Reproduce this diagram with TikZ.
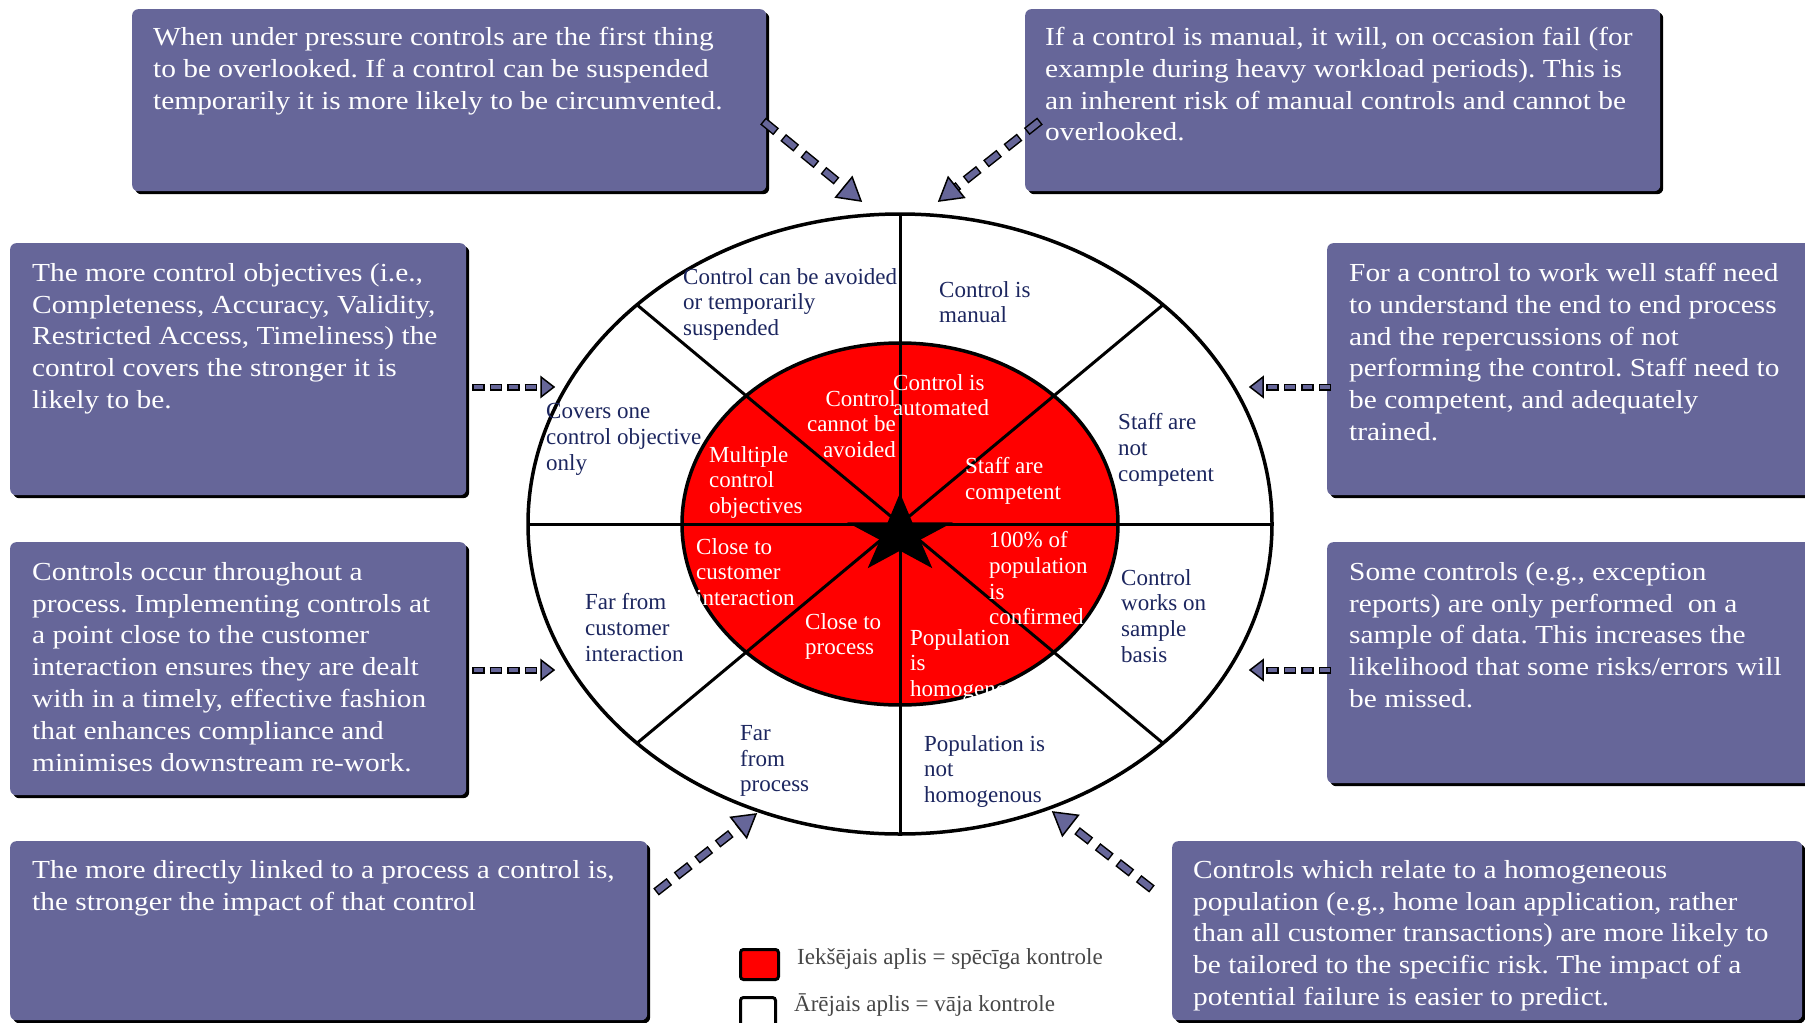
\documentclass[tikz,border=0pt]{standalone}
\usepackage{fontspec}
\setmainfont{Liberation Serif}
\newfontfamily\boxfont[FakeStretch=1.13]{Liberation Serif}
\usetikzlibrary{calc,shadows}
\definecolor{boxcol}{RGB}{102,102,153}
\definecolor{navy}{RGB}{28,38,95}
\definecolor{legendgray}{RGB}{70,70,70}
\definecolor{strongred}{RGB}{255,0,0}
\tikzset{
  panel/.style={draw=none, fill=boxcol, rounded corners=6pt, anchor=north west, inner sep=0pt,
    general shadow={fill=black, shadow xshift=3pt, shadow yshift=-3pt}},
  boxtext/.style={font=\boxfont\fontsize{26}{31.8}\selectfont, text=white, align=left, inner sep=0pt, anchor=north west},
  outerlbl/.style={font=\fontsize{23}{25.8}\selectfont, text=navy, align=left, inner sep=0pt, anchor=north west},
  innerlbl/.style={font=\fontsize{23}{25.8}\selectfont, text=white, align=left, inner sep=0pt, anchor=north west},
  legendtxt/.style={font=\fontsize{23}{26}\selectfont, text=legendgray, inner sep=0pt, anchor=west},
  spoke/.style={line width=3pt, draw=black},
  rim/.style={line width=3.5pt, draw=black},
}
% #1 start, #2 tip, #3 head length, #4 head half width, #5 outer width, #6 inner width, #7 outer dash, #8 inner dash
\newcommand{\dasharr}[8]{%
  \path ($(#2)!#3!(#1)$) coordinate (hb);
  \draw[line width=#5, draw=black, dash pattern=#7] (#1) -- (hb);
  \draw[line width=#6, draw=boxcol, dash pattern=#8, shorten <=1.5pt] (#1) -- (hb);
  \filldraw[fill=boxcol, draw=black, line width=1.5pt, line join=miter]
    (#2) -- ($(hb)!#4!90:(#2)$) -- ($(hb)!#4!-90:(#2)$) -- cycle;
}
\frenchspacing
\begin{document}
\frenchspacing
\begin{tikzpicture}[x=1pt, y=-1pt]
\useasboundingbox (0,0) rectangle (1805,1023);

% ---------- boxes ----------
\node[panel, minimum width=634pt, minimum height=182pt] (b1) at (132,9) {};
\node[panel, minimum width=635pt, minimum height=182pt] (b2) at (1025,9) {};
\node[panel, minimum width=456pt, minimum height=252pt] (b3) at (10,243) {};
\node[panel, minimum width=456pt, minimum height=253pt] (b4) at (10,542) {};
\node[panel, minimum width=637pt, minimum height=179pt] (b5) at (10,841) {};
\node[panel, minimum width=500pt, minimum height=252pt] (b6) at (1327,243) {};
\node[panel, minimum width=500pt, minimum height=241pt] (b7) at (1327,542) {};
\node[panel, minimum width=630pt, minimum height=179pt] (b8) at (1172,841) {};

\node[boxtext] (t1) at (153,27) {When under pressure controls are the first thing\\to be overlooked. If a control can be suspended\\temporarily it is more likely to be circumvented.};
\node[boxtext] (t2) at (1045,27) {If a control is manual, it will, on occasion fail (for\\example during heavy workload periods). This is\\an inherent risk of manual controls and cannot be\\overlooked.};
\node[boxtext] (t3) at (32,263) {The more control objectives (i.e.,\\Completeness, Accuracy, Validity,\\Restricted Access, Timeliness) the\\control covers the stronger it is\\likely to be.};
\node[boxtext] (t4) at (32,562) {Controls occur throughout a\\process. Implementing controls at\\a point close to the customer\\interaction ensures they are dealt\\with in a timely, effective fashion\\that enhances compliance and\\minimises downstream re-work.};
\node[boxtext] (t5) at (32,860) {The more directly linked to a process a control is,\\the stronger the impact of that control};
\node[boxtext] (t6) at (1349,263) {For a control to work well staff need\\to understand the end to end process\\and the repercussions of not\\performing the control. Staff need to\\be competent, and adequately\\trained.};
\node[boxtext] (t7) at (1349,562) {Some controls (e.g., exception\\reports) are only performed\ \ on a\\sample of data. This increases the\\likelihood that some risks/errors will\\be missed.};
\node[boxtext] (t8) at (1193,860) {Controls which relate to a homogeneous\\population (e.g., home loan application, rather\\than all customer transactions) are more likely to\\be tailored to the specific risk. The impact of a\\potential failure is easier to predict.};

% ---------- wheel ----------
\coordinate (c) at (900,524);
\fill[white] (c) ellipse [x radius=372pt, y radius=310pt];
\fill[strongred] (c) ellipse [x radius=218pt, y radius=181pt];
\foreach \a in {0,45,...,315}
  \draw[spoke] (c) -- ++({372*cos(\a)},{310*sin(\a)});
\draw[rim] (c) ellipse [x radius=218pt, y radius=181pt];
\draw[rim] (c) ellipse [x radius=372pt, y radius=310pt];

% outer labels
\node[outerlbl] (o1) at (683,268) {Control can be avoided\\or temporarily\\suspended};
\node[outerlbl] (o2) at (939,281) {Control is\\manual};
\node[outerlbl] (o3) at (1118,413) {Staff are\\not\\competent};
\node[outerlbl] (o4) at (1121,569) {Control\\works on\\sample\\basis};
\node[outerlbl] (o5) at (924,735) {Population is\\not\\homogenous};
\node[outerlbl] (o6) at (740,725) {Far\\from\\process};
\node[outerlbl] (o7) at (585,593) {Far from\\customer\\interaction};
\node[outerlbl] (o8) at (546,403) {Covers one\\control objective\\only};

% inner labels
\node[innerlbl, align=right, anchor=north east] (i1) at (896,390) {Control\\cannot be\\avoided};
\node[innerlbl] (i2) at (893,374) {Control is\\automated};
\node[innerlbl] (i3) at (965,457) {Staff are\\competent};
\node[innerlbl] (i4) at (989,531) {100\% of\\population\\is\\confirmed};
\node[innerlbl] (i5) at (910,629) {Population\\is\\homogeneous};
\node[innerlbl] (i6) at (805,613) {Close to\\process};
\node[innerlbl] (i7) at (696,538) {Close to\\customer\\interaction};
\node[innerlbl] (i8) at (709,446) {Multiple\\control\\objectives};

% star
\fill[black] (900,493) -- (912.3,522.3) -- (953,522.3) -- (920,539.9) -- (932.3,568.2)
  -- (900,550.7) -- (867.7,568.2) -- (880,539.9) -- (847,522.3) -- (887.7,522.3) -- cycle;

% ---------- arrows ----------
\coordinate (a1s) at (763,121);  \coordinate (a1t) at (861,201);
\coordinate (a2s) at (1040,121); \coordinate (a2t) at (939,201);
\coordinate (a3s) at (472,387);  \coordinate (a3t) at (554,387);
\coordinate (a4s) at (472,670);  \coordinate (a4t) at (554,670);
\coordinate (a5s) at (1331,387); \coordinate (a5t) at (1250,387);
\coordinate (a6s) at (1331,670); \coordinate (a6t) at (1250,670);
\coordinate (a7s) at (656,892);  \coordinate (a7t) at (756,814);
\coordinate (a8s) at (1152,889); \coordinate (a8t) at (1053,812);

\dasharr{a1s}{a1t}{22pt}{13pt}{9pt}{6pt}{on 17pt off 9pt}{on 14pt off 12pt}
\dasharr{a2s}{a2t}{22pt}{13pt}{9pt}{6pt}{on 17pt off 9pt}{on 14pt off 12pt}
\dasharr{a7s}{a7t}{22pt}{13pt}{9pt}{6pt}{on 17pt off 9pt}{on 14pt off 12pt}
\dasharr{a8s}{a8t}{22pt}{13pt}{9pt}{6pt}{on 17pt off 9pt}{on 14pt off 12pt}
\dasharr{a3s}{a3t}{13pt}{10pt}{7pt}{4pt}{on 12.5pt off 5pt}{on 9.5pt off 8pt}
\dasharr{a4s}{a4t}{13pt}{10pt}{7pt}{4pt}{on 12.5pt off 5pt}{on 9.5pt off 8pt}
\dasharr{a5s}{a5t}{13pt}{10pt}{7pt}{4pt}{on 12.5pt off 5pt}{on 9.5pt off 8pt}
\dasharr{a6s}{a6t}{13pt}{10pt}{7pt}{4pt}{on 12.5pt off 5pt}{on 9.5pt off 8pt}

% ---------- legend ----------
\node[draw=black, line width=3pt, fill=strongred, rounded corners=3pt, minimum width=38pt, minimum height=30pt, inner sep=0pt, anchor=north west] (l1) at (739,948) {};
\node[draw=black, line width=3pt, fill=white, rounded corners=3pt, minimum width=35pt, minimum height=32pt, inner sep=0pt, anchor=north west] (l2) at (739,996) {};
\node[legendtxt] (lt1) at (797,959) {Iekšējais aplis = spēcīga kontrole};
\node[legendtxt] (lt2) at (794,1005) {Ārējais aplis = vāja kontrole};
\end{tikzpicture}
\end{document}
